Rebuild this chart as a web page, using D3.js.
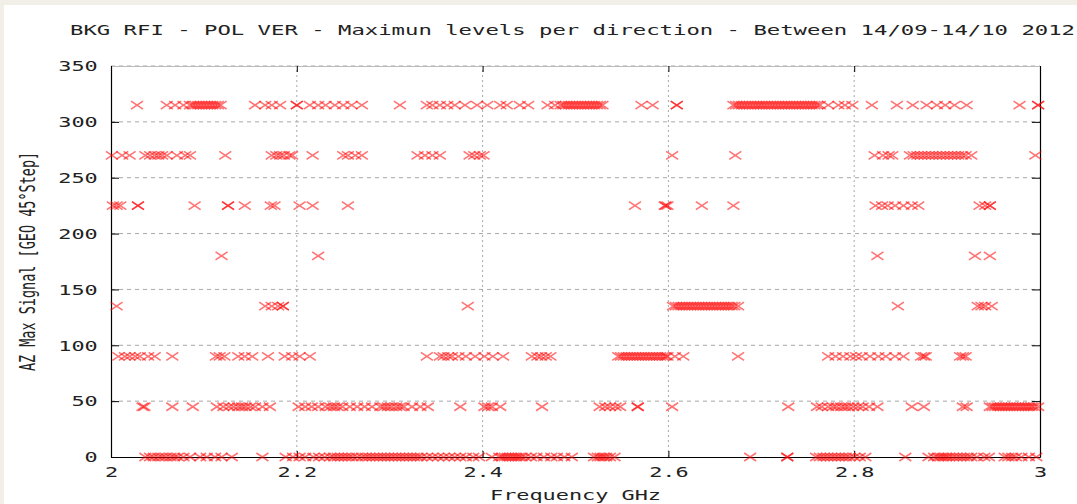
<!DOCTYPE html>
<html><head><meta charset="utf-8">
<script src="https://cdn.jsdelivr.net/npm/d3@7"></script>
<style>html,body{margin:0;padding:0;background:#f1efe7;}svg{display:block;}</style>
</head><body>
<svg id="chart" width="1077" height="504"></svg>
<script>
const titleText = "BKG RFI - POL VER - Maximun levels per direction - Between 14/09-14/10 2012";
const xLabel = "Frequency GHz";
const yLabel = "AZ Max Signal [GEO 45°Step]";
const xTicks = [2, 2.2, 2.4, 2.6, 2.8, 3];
const yTicks = [0, 50, 100, 150, 200, 250, 300, 350];
const levels = [0, 45, 90, 135, 180, 225, 270, 315];

const f315 = [2.028,2.060,2.069,2.078,2.085,2.088,2.091,2.094,2.097,2.100,2.103,2.106,2.109,2.112,2.115,2.118,
 2.155,2.166,2.173,2.182,2.200,2.200,2.214,2.223,2.231,2.241,2.250,2.259,2.270,2.311,
 2.340,2.346,2.354,2.362,2.370,2.381,2.394,2.405,2.419,2.426,2.440,2.449,2.470,2.478,
 2.484,2.487,2.490,2.493,2.496,2.499,2.502,2.505,2.508,2.511,2.514,2.517,2.520,2.523,2.526,2.529,
 2.571,2.583,2.609,2.609,
 2.670,2.673,2.676,2.679,2.682,2.685,2.688,2.691,2.694,2.697,2.700,2.703,2.706,2.709,2.712,2.715,
 2.718,2.721,2.724,2.727,2.730,2.733,2.736,2.739,2.742,2.745,2.748,2.751,2.754,2.757,2.760,2.763,
 2.772,2.783,2.790,2.798,2.819,2.846,2.863,2.878,2.889,2.898,2.908,2.921,2.978,2.998,2.998];
const f270 = [2.001,2.012,2.020,2.037,2.042,2.047,2.051,2.055,2.060,2.071,2.080,2.085,2.123,
 2.173,2.178,2.182,2.186,2.192,2.195,2.217,2.250,2.255,2.263,2.270,2.330,2.338,2.346,2.354,
 2.386,2.391,2.397,2.401,2.604,2.672,2.822,2.831,2.837,2.841,
 2.860,2.864,2.868,2.872,2.876,2.880,2.884,2.888,2.892,2.896,2.900,2.904,2.908,2.912,2.916,2.920,2.926,2.995];
const f225 = [2.002,2.006,2.010,2.029,2.029,2.090,2.126,2.126,2.144,2.172,2.176,2.203,2.217,2.255,
 2.564,2.596,2.597,2.599,2.636,2.670,2.823,2.830,2.836,2.844,2.853,2.862,2.869,2.935,2.941,2.946,2.946];
const f180 = [2.119,2.223,2.825,2.930,2.946];
const f135 = [2.006,2.166,2.173,2.180,2.185,2.185,2.384,
 2.605,2.608,2.611,2.614,2.617,2.620,2.623,2.626,2.629,2.632,2.635,2.638,2.641,2.644,2.647,2.650,
 2.653,2.656,2.659,2.662,2.665,2.668,2.671,2.675,2.847,2.933,2.937,2.941,2.948];
const f90 = [2.008,2.015,2.020,2.026,2.031,2.040,2.047,2.066,2.113,2.117,2.122,2.137,2.144,2.152,2.169,
 2.187,2.195,2.203,2.214,2.340,2.354,2.358,2.363,2.367,2.374,2.382,2.392,2.402,2.411,2.422,
 2.453,2.459,2.463,2.468,2.473,
 2.546,2.549,2.552,2.555,2.558,2.561,2.564,2.567,2.570,2.573,2.576,2.579,2.582,2.585,2.588,2.591,2.594,2.597,2.599,
 2.607,2.616,2.675,2.772,2.780,2.788,2.796,2.802,2.808,2.817,2.826,2.834,2.844,2.853,
 2.872,2.875,2.877,2.914,2.917,2.920];
const f45 = [2.034,2.036,2.066,2.088,2.114,2.121,2.127,2.132,2.137,2.141,2.145,2.150,2.155,2.163,2.171,
 2.202,2.209,2.216,2.223,2.231,2.236,2.240,2.244,2.249,2.257,2.265,2.273,2.281,
 2.290,2.294,2.298,2.302,2.307,2.311,2.315,2.324,2.333,2.341,2.376,2.402,2.406,2.410,2.419,2.464,
 2.526,2.532,2.537,2.543,2.548,2.567,2.567,2.604,2.729,
 2.760,2.765,2.772,2.777,2.781,2.786,2.790,2.794,2.799,2.804,2.809,2.816,2.825,2.862,2.875,2.917,2.921,
 2.946,2.949,2.952,2.955,2.958,2.961,2.964,2.967,2.970,2.973,2.976,2.979,2.982,2.985,2.988,2.991,2.994,2.998];
const f0 = [2.037,2.042,2.046,2.051,2.055,2.059,2.064,2.068,2.072,2.078,2.085,2.096,2.103,2.112,2.119,2.130,
 2.163,2.188,2.196,2.203,2.209,
 2.218,2.224,2.230,2.236,2.240,2.244,2.248,2.252,2.256,2.260,2.265,2.270,2.274,2.278,2.282,2.286,2.290,
 2.294,2.298,2.302,2.306,2.310,2.314,2.318,2.322,2.326,2.330,2.334,2.340,2.346,2.352,2.358,2.364,2.370,
 2.376,2.382,2.390,2.396,
 2.410,2.418,2.421,2.424,2.427,2.430,2.433,2.436,2.439,2.442,2.446,2.452,2.458,2.466,2.474,2.480,2.488,2.496,
 2.520,2.524,2.527,2.530,2.533,2.537,2.542,2.688,2.728,2.728,
 2.759,2.763,2.767,2.771,2.775,2.779,2.783,2.787,2.791,2.795,2.800,2.806,2.812,2.855,
 2.880,2.886,2.890,2.893,2.896,2.899,2.902,2.906,2.910,2.914,2.918,2.922,2.926,2.932,2.940,2.945,
 2.962,2.966,2.970,2.974,2.980,2.988,2.996];

const seriesByLevel = [f0, f45, f90, f135, f180, f225, f270, f315];

const svg = d3.select("#chart");
const W = 1077, H = 504;
const font = "'DejaVu Sans Mono', monospace";
const sx = 1.62; // horizontal stretch of the original bitmap

svg.append("rect").attr("x", 4).attr("y", 5).attr("width", W - 4).attr("height", H - 5).attr("fill", "#ffffff");

const x = d3.scaleLinear().domain([2, 3]).range([111, 1040]);
const y = d3.scaleLinear().domain([0, 350]).range([457, 66]);

const grid = svg.append("g");
grid.selectAll("line.h").data(yTicks.filter(d => d > 0)).join("line")
  .attr("x1", x(2)).attr("x2", x(3)).attr("y1", d => y(d)).attr("y2", d => y(d))
  .attr("stroke", "#a8a8a8").attr("stroke-width", 1).attr("stroke-dasharray", "4,4");
grid.selectAll("line.v").data(xTicks.filter(d => d > 2 && d < 3)).join("line")
  .attr("x1", d => x(d)).attr("x2", d => x(d)).attr("y1", y(0)).attr("y2", y(350))
  .attr("stroke", "#a8a8a8").attr("stroke-width", 1).attr("stroke-dasharray", "2,3");

const axisL = svg.append("g").attr("transform", `translate(${x(2)},0)`)
  .call(d3.axisLeft(y).tickValues(yTicks).tickSize(-8).tickPadding(10).tickSizeOuter(0));
const axisR = svg.append("g").attr("transform", `translate(${x(3)},0)`)
  .call(d3.axisRight(y).tickValues(yTicks).tickSize(-8).tickFormat("").tickSizeOuter(0));
const axisB = svg.append("g").attr("transform", `translate(0,${y(0)})`)
  .call(d3.axisBottom(x).tickValues(xTicks).tickSize(-6).tickPadding(10).tickSizeOuter(0).tickFormat(d3.format("")));
const axisT = svg.append("g").attr("transform", `translate(0,${y(350)})`)
  .call(d3.axisTop(x).tickValues(xTicks).tickSize(-6).tickFormat("").tickSizeOuter(0));
[axisL, axisR, axisB, axisT].forEach(g => {
  g.select(".domain").attr("stroke", "#000").attr("stroke-width", 1.2);
  g.selectAll(".tick line").attr("stroke", "#000");
});
axisT.select(".domain").attr("stroke", "#bbb");
axisL.selectAll(".tick text").attr("font-family", font).attr("font-size", 13.5).attr("fill", "#222")
  .attr("transform", `translate(-10,0) scale(${sx},1)`).attr("x", -2).attr("dy", "0.35em");
axisB.selectAll(".tick text").attr("font-family", font).attr("font-size", 13.5).attr("fill", "#222")
  .attr("transform", `scale(${sx},1)`);

const marker = "M-6,-4L6,4M-6,4L6,-4";
const pts = [];
levels.forEach((lv, i) => seriesByLevel[i].forEach(f => pts.push({ f, lv })));
svg.append("g").selectAll("path").data(pts).join("path")
  .attr("d", marker)
  .attr("transform", d => `translate(${x(d.f)},${y(d.lv)})`)
  .attr("fill", "none").attr("stroke", "#ff0000").attr("stroke-width", 1.6).attr("stroke-opacity", 0.55);

svg.append("text").attr("font-family", font).attr("font-size", 13.5).attr("fill", "#222")
  .attr("x", 70).attr("y", 35).attr("textLength", 1005).attr("lengthAdjust", "spacingAndGlyphs")
  .text(titleText);
svg.append("text").attr("font-family", font).attr("font-size", 13.5).attr("fill", "#222")
  .attr("text-anchor", "middle")
  .attr("transform", `translate(${(x(2) + x(3)) / 2},500) scale(${sx},1)`)
  .text(xLabel);
svg.append("text").attr("font-family", font).attr("font-size", 13.5).attr("fill", "#222")
  .attr("text-anchor", "middle")
  .attr("transform", `translate(35,${(y(0) + y(350)) / 2}) scale(${sx},1) rotate(-90)`)
  .text(yLabel);
</script>
</body></html>
